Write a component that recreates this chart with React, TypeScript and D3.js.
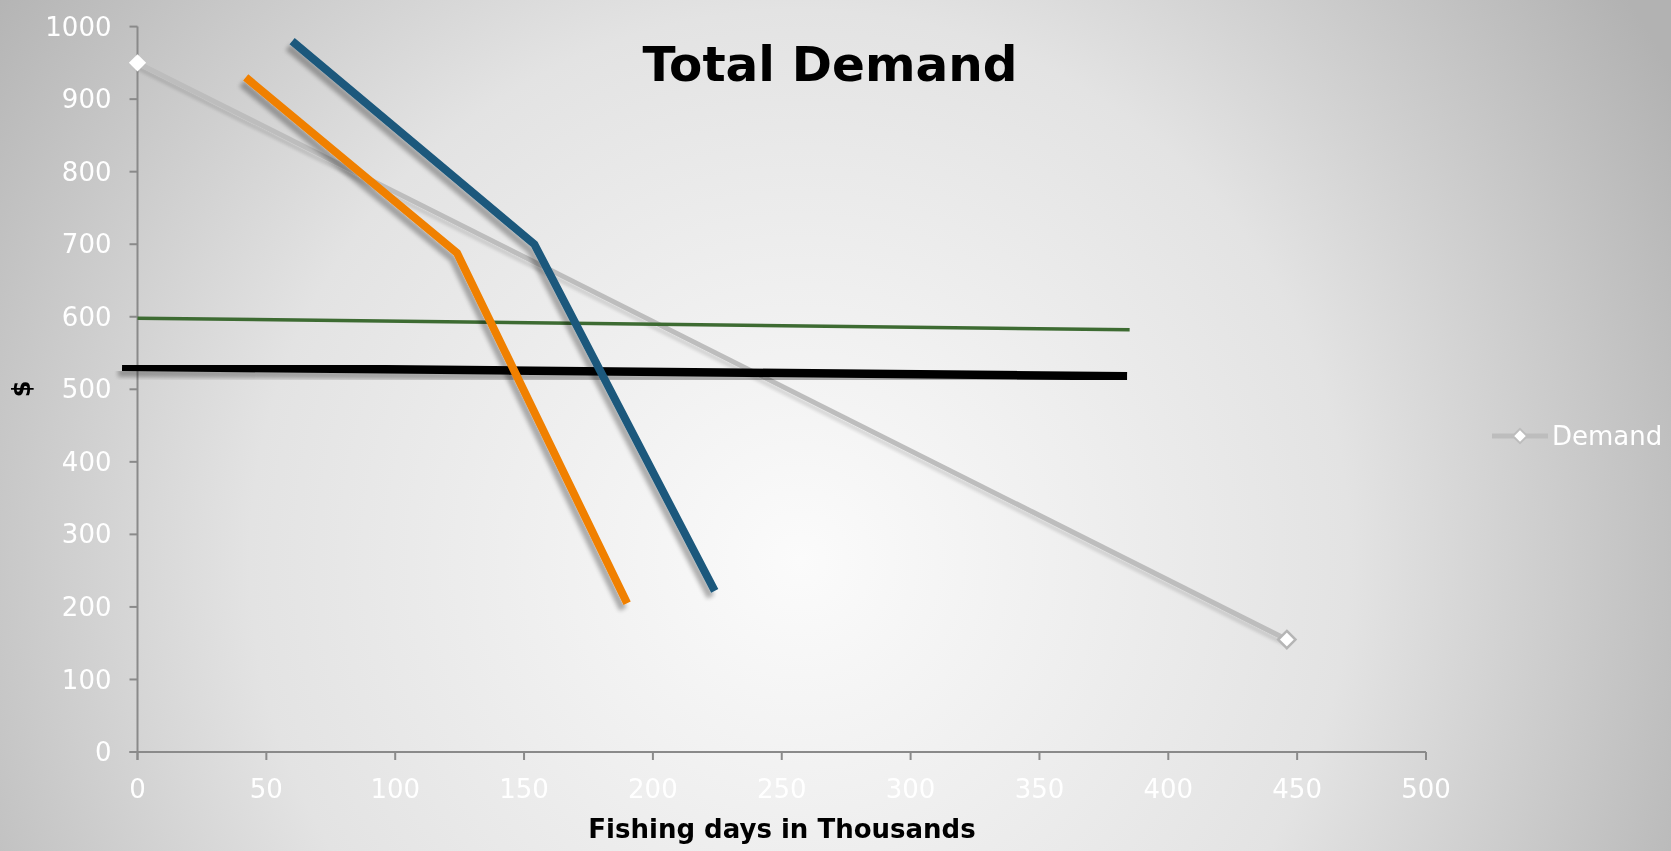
import React from 'react';
import * as d3 from 'd3';

// chart data
const demandX = [0, 446];
const demandY = [950, 155];
const blueX = [60, 154, 224];
const blueY = [980, 700, 222];
const orangeX = [42, 124, 190];
const orangeY = [930, 688, 205];
const greenX = [0, 385];
const greenY = [598, 582];
const blackX = [-6, 384];
const blackY = [531, 518];

const xTicks = [0, 50, 100, 150, 200, 250, 300, 350, 400, 450, 500];
const yTicks = [0, 100, 200, 300, 400, 500, 600, 700, 800, 900, 1000];
const legendLabels = ['Demand'];

const W = 1671, H = 851;
const font = "Verdana, 'DejaVu Sans', sans-serif";

const App = () => {
    const x = d3.scaleLinear().domain([0, 500]).range([137.5, 1426]);
    const y = d3.scaleLinear().domain([0, 1000]).range([752, 26.6]);

    const pts = (xs: number[], ys: number[]) => xs.map((v, i) => [v, ys[i]] as [number, number]);
    const line = d3.line<[number, number]>().x(d => x(d[0])).y(d => y(d[1]));
    const diamond = d3.symbol().type(d3.symbolDiamond2).size(190)();

    const series = [
        { d: pts(demandX, demandY), color: '#bdbdbd', w: 5, shadow: 'url(#shadowLight)' },
        { d: pts(greenX, greenY), color: '#3d6b32', w: 3.5, shadow: undefined },
        { d: pts(blackX, blackY), color: '#000000', w: 8.5, shadow: 'url(#shadow)' },
        { d: pts(orangeX, orangeY), color: '#f08000', w: 8, shadow: 'url(#shadow)' },
        { d: pts(blueX, blueY), color: '#1b587c', w: 8, shadow: 'url(#shadow)' },
    ];

    return (
        <svg width={W} height={H} style={{ position: 'fixed', left: 0, top: 0 }}>
            <defs>
                <radialGradient id="bg" gradientUnits="userSpaceOnUse" cx={800} cy={560} r={1000} fx={800} fy={560}>
                    <stop offset="0%" stopColor="#fbfbfb" />
                    <stop offset="55%" stopColor="#e3e3e3" />
                    <stop offset="100%" stopColor="#b2b2b2" />
                </radialGradient>
                <filter id="shadow" x="-10%" y="-10%" width="120%" height="140%">
                    <feGaussianBlur in="SourceAlpha" stdDeviation="2" />
                    <feOffset dx="-4" dy="6" result="off" />
                    <feComponentTransfer>
                        <feFuncA type="linear" slope="0.3" />
                    </feComponentTransfer>
                    <feMerge>
                        <feMergeNode />
                        <feMergeNode in="SourceGraphic" />
                    </feMerge>
                </filter>
                <filter id="shadowLight" x="-10%" y="-10%" width="120%" height="140%">
                    <feGaussianBlur in="SourceAlpha" stdDeviation="1.8" />
                    <feOffset dx="-2" dy="4" result="off" />
                    <feComponentTransfer>
                        <feFuncA type="linear" slope="0.12" />
                    </feComponentTransfer>
                    <feMerge>
                        <feMergeNode />
                        <feMergeNode in="SourceGraphic" />
                    </feMerge>
                </filter>
            </defs>
            <rect width={W} height={H} fill="url(#bg)" />

            {/* axes */}
            <g stroke="#8a8a8a" strokeWidth={2}>
                <line x1={x(0)} x2={x(0)} y1={y(1000)} y2={y(0) + 8} />
                <line x1={x(0) - 8} x2={x(500)} y1={y(0)} y2={y(0)} />
                {yTicks.map(t => <line key={'yt' + t} x1={x(0) - 8} x2={x(0)} y1={y(t)} y2={y(t)} />)}
                {xTicks.map(t => <line key={'xt' + t} x1={x(t)} x2={x(t)} y1={y(0)} y2={y(0) + 8} />)}
            </g>
            <g fill="#ffffff" fontFamily={font} fontSize={26}>
                {yTicks.map(t => (
                    <text key={'yl' + t} x={x(0) - 26} y={y(t)} dy="0.35em" textAnchor="end">{t}</text>
                ))}
                {xTicks.map(t => (
                    <text key={'xl' + t} x={x(t)} y={y(0) + 46} textAnchor="middle">{t}</text>
                ))}
            </g>

            {/* series */}
            {series.map((s, i) => (
                <path key={i} d={line(s.d) || ''} fill="none" stroke={s.color} strokeWidth={s.w}
                    strokeLinejoin="miter" filter={s.shadow} />
            ))}
            <path d={diamond} transform={`translate(${x(demandX[0])},${y(demandY[0])})`} fill="#ffffff" />
            <path d={diamond} transform={`translate(${x(demandX[1])},${y(demandY[1])})`} fill="#ffffff"
                stroke="#b5b5b5" strokeWidth={2.5} />

            {/* titles */}
            <text x={830} y={81} textAnchor="middle" fontFamily={font} fontWeight="bold" fontSize={48.5}>Total Demand</text>
            <text x={782} y={838} textAnchor="middle" fontFamily={font} fontWeight="bold" fontSize={26}>Fishing days in Thousands</text>
            <text transform="translate(30,389) rotate(-90)" textAnchor="middle" fontFamily={font} fontWeight="bold" fontSize={24}>$</text>

            {/* legend */}
            <g>
                <line x1={1492} x2={1548} y1={436} y2={436} stroke="#bdbdbd" strokeWidth={5} />
                <path d={d3.symbol().type(d3.symbolDiamond2).size(130)()} transform="translate(1520,436)" fill="#ffffff" stroke="#bdbdbd" strokeWidth={2} />
                {legendLabels.map(l => (
                    <text key={l} x={1552} y={436} dy="0.35em" fill="#ffffff" fontFamily={font} fontSize={26}>{l}</text>
                ))}
            </g>
        </svg>
    );
};

export default App;
